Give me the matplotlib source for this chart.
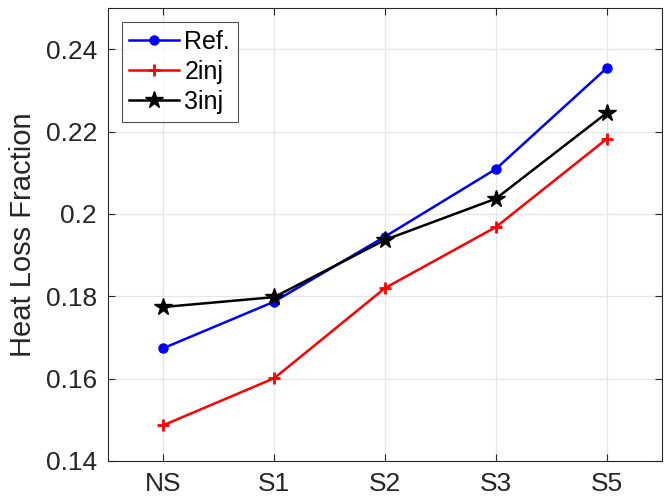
import matplotlib.pyplot as plt

plt.rcParams['font.family'] = ['Liberation Sans', 'DejaVu Sans']

cases = ['NS', 'S1', 'S2', 'S3', 'S5']
ref = [0.1674, 0.1787, 0.1945, 0.2109, 0.2354]
inj2 = [0.1487, 0.1601, 0.1820, 0.1968, 0.2182]
inj3 = [0.1774, 0.1798, 0.1937, 0.2037, 0.2245]

x = list(range(len(cases)))

fig = plt.figure(figsize=(6.64, 5.03), dpi=100)
ax = fig.add_axes([0.1627, 0.0835, 0.8343, 0.9005])

ax.plot(x, ref, color='#0000ff', marker='o', markersize=6.5, linewidth=1.8, label='Ref.')
ax.plot(x, inj2, color='#ff0000', marker='+', markersize=8, markeredgewidth=2, linewidth=1.8, label='2inj')
ax.plot(x, inj3, color='black', marker='*', markersize=13, linewidth=1.8, label='3inj')

ax.set_xlim(-0.5, 4.5)
ax.set_ylim(0.14, 0.25)
ax.set_xticks(x)
ax.set_xticklabels(cases)
ax.set_yticks([0.14, 0.16, 0.18, 0.2, 0.22, 0.24])
ax.set_yticklabels(['0.14', '0.16', '0.18', '0.2', '0.22', '0.24'])
ax.tick_params(direction='in', top=True, right=True, labelsize=19, length=5, width=0.8,
               color='#262626', labelcolor='#262626', pad=8)
ax.grid(True, color='#e6e6e6', linewidth=0.9)
ax.set_axisbelow(True)
for s in ax.spines.values():
    s.set_color('#262626')
    s.set_linewidth(0.8)

ax.set_ylabel('Heat Loss Fraction', fontsize=21, color='#262626', labelpad=6)

leg = ax.legend(loc='upper left', fontsize=18, frameon=True, fancybox=False,
                edgecolor='#262626', handlelength=2.0, handletextpad=0.2,
                labelspacing=0.25, borderpad=0.3, borderaxespad=0,
                bbox_to_anchor=(0.025, 0.969))
leg.get_frame().set_linewidth(0.8)

fig.savefig('out.png', dpi=100)
